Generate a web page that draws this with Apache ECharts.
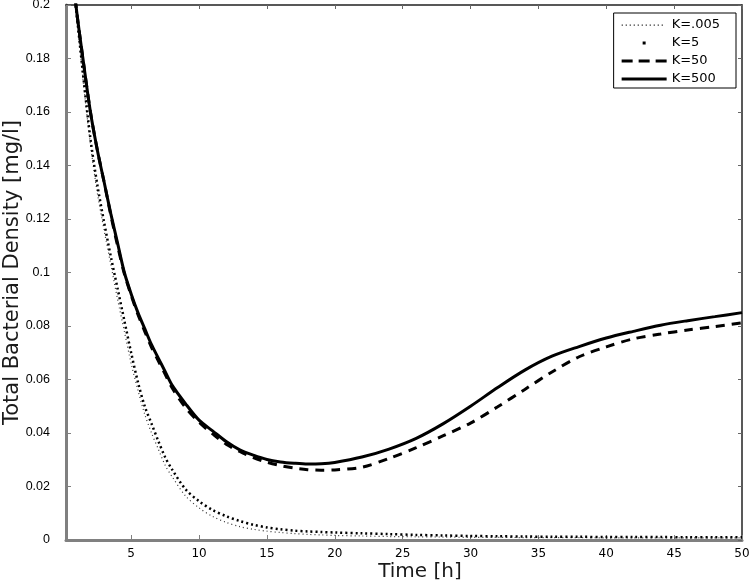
<!DOCTYPE html>
<html>
<head>
<meta charset="utf-8">
<script src="https://cdn.jsdelivr.net/npm/echarts@6/dist/echarts.min.js"></script>
<style>
  html, body { margin: 0; padding: 0; background: #fff; }
  #main { width: 750px; height: 588px; }
</style>
</head>
<body>
<div id="main"></div>
<script>
// time points [h]
const hours = [0.2, 1, 1.5, 2, 2.5, 3, 3.5, 4, 4.5, 5,
  5.5, 6, 6.5, 7, 7.5, 8,
  9, 10, 11, 12, 13, 14, 15, 16, 17, 18, 19, 20,
  22, 24, 26, 28, 30, 32, 34, 36, 38, 40, 42, 44, 46, 48, 50];

// total bacterial density [mg/l] for each K
const k005 = [0.235, 0.195, 0.170, 0.148, 0.130, 0.116, 0.103, 0.090, 0.078, 0.066,
  0.056, 0.047, 0.040, 0.034, 0.028, 0.0238,
  0.0165, 0.0120, 0.0088, 0.0066, 0.0050, 0.0040, 0.0033, 0.0028, 0.0024, 0.0021, 0.0019, 0.0017,
  0.0015, 0.0013, 0.0012, 0.0011, 0.0010, 0.0010, 0.0009, 0.0009, 0.0009, 0.0008, 0.0008, 0.0008, 0.0008, 0.0008, 0.0008];
const k5 = [0.235, 0.196, 0.172, 0.150, 0.133, 0.119, 0.106, 0.094, 0.082, 0.070,
  0.059, 0.050, 0.0435, 0.037, 0.031, 0.0265,
  0.0190, 0.0145, 0.0112, 0.0089, 0.0071, 0.0057, 0.0047, 0.0040, 0.0035, 0.0032, 0.0030, 0.0028,
  0.0025, 0.0022, 0.0019, 0.0017, 0.0015, 0.0014, 0.0013, 0.0012, 0.0012, 0.0011, 0.0011, 0.0011, 0.0010, 0.0010, 0.0010];
const k50 = [0.232, 0.197, 0.178, 0.160, 0.146, 0.134, 0.1215, 0.110, 0.0995, 0.0915,
  0.0843, 0.078, 0.072, 0.067, 0.062, 0.057,
  0.0495, 0.0440, 0.0397, 0.0358, 0.0331, 0.0308, 0.0291, 0.0278, 0.0269, 0.0263, 0.0261, 0.0262,
  0.0272, 0.0305, 0.0345, 0.039, 0.0437, 0.0498, 0.0563, 0.0628, 0.0685, 0.0722, 0.0752, 0.077, 0.0785, 0.0798, 0.0812];
const k500 = [0.232, 0.197, 0.178, 0.160, 0.146, 0.134, 0.122, 0.111, 0.100, 0.092,
  0.085, 0.079, 0.073, 0.068, 0.063, 0.058,
  0.051, 0.0448, 0.0408, 0.0368, 0.0337, 0.0317, 0.0301, 0.0292, 0.0287, 0.0284, 0.0285, 0.029,
  0.031, 0.034, 0.038, 0.0435, 0.050, 0.057, 0.0635, 0.0687, 0.0723, 0.0755, 0.078, 0.0803, 0.082, 0.0835, 0.085];

const xTicks = [5, 10, 15, 20, 25, 30, 35, 40, 45, 50];
const names = ['K=.005', 'K=5', 'K=50', 'K=500'];

function pairs(ys) {
  return hours.map((h, i) => [h, ys[i]]);
}

// legend icons as paths (45 x 14 box), matlab style line samples
const box = 'M0,0M45,14';
let dots = '';
for (let x = 0; x < 44; x += 4) dots += 'M' + x + ',6.4h1.3v1.3h-1.3z';
const icons = [
  'path://' + box + dots,
  'path://' + box + 'M21,5.5h3v3h-3z',
  'path://' + box + 'M0,5.6h11v2.8h-11zM17,5.6h11v2.8h-11zM34,5.6h11v2.8h-11z',
  'path://' + box + 'M0,5.6h45v2.8h-45z'
];

const chart = echarts.init(document.getElementById('main'));

const xBase = {
  type: 'value',
  min: 0.2,
  max: 50,
  splitLine: { show: false }
};
const yBase = {
  type: 'value',
  min: 0,
  max: 0.2,
  interval: 0.02,
  splitLine: { show: false }
};

const option = {
  backgroundColor: '#fff',
  animation: false,
  grid: { left: 66, right: 8, top: 5, bottom: 48, outerBoundsMode: 'none' },
  legend: {
    orient: 'vertical',
    right: 14,
    top: 13,
    padding: [5, 16, 2, 8],
    itemWidth: 45,
    itemHeight: 14,
    itemGap: 4,
    backgroundColor: '#fff',
    borderColor: '#000',
    borderWidth: 1,
    textStyle: { fontFamily: 'DejaVu Sans', fontSize: 13, color: '#000' },
    data: names.map((n, i) => ({ name: n, icon: icons[i] }))
  },
  xAxis: [
    Object.assign({}, xBase, {
      position: 'bottom',
      name: 'Time [h]',
      nameLocation: 'middle',
      nameGap: 22,
      nameMoveOverlap: false,
      nameTextStyle: { fontFamily: 'DejaVu Sans', fontSize: 20, color: '#1a1a1a', padding: [0, 0, 0, 32] },
      axisLine: { lineStyle: { color: '#808080', width: 3 } },
      axisTick: { inside: true, length: 5, customValues: xTicks, lineStyle: { color: '#808080' } },
      axisLabel: { customValues: xTicks, margin: 8, fontFamily: 'DejaVu Sans', fontSize: 12, color: '#000' }
    }),
    Object.assign({}, xBase, {
      position: 'top',
      axisLine: { onZero: false, lineStyle: { color: '#222', width: 1.5 } },
      axisTick: { inside: true, length: 4, customValues: xTicks, lineStyle: { color: '#666' } },
      axisLabel: { show: false }
    })
  ],
  yAxis: [
    Object.assign({}, yBase, {
      position: 'left',
      name: 'Total Bacterial Density [mg/l]',
      nameLocation: 'middle',
      nameGap: 43,
      nameMoveOverlap: false,
      nameTextStyle: { fontFamily: 'DejaVu Sans', fontSize: 21, color: '#1a1a1a' },
      axisLine: { lineStyle: { color: '#808080', width: 3 } },
      axisTick: { inside: true, length: 5, lineStyle: { color: '#808080' } },
      axisLabel: { margin: 16, fontFamily: 'Liberation Sans', fontSize: 12.5, color: '#000' }
    }),
    Object.assign({}, yBase, {
      position: 'right',
      axisLine: { onZero: false, lineStyle: { color: '#222', width: 1.5 } },
      axisTick: { inside: true, length: 4, lineStyle: { color: '#666' } },
      axisLabel: { show: false }
    })
  ],
  series: [
    {
      name: names[0], type: 'line', symbol: 'none', smooth: 0.3, color: '#333',
      data: pairs(k005),
      lineStyle: { color: '#333', width: 1.2, type: [1, 3] }
    },
    {
      name: names[1], type: 'line', symbol: 'none', smooth: 0.3, color: '#000',
      data: pairs(k5),
      lineStyle: { color: '#000', width: 2.5, type: [2, 3] }
    },
    {
      name: names[2], type: 'line', symbol: 'none', smooth: 0.3, color: '#000',
      data: pairs(k50),
      lineStyle: { color: '#000', width: 3, type: [9, 7] }
    },
    {
      name: names[3], type: 'line', symbol: 'none', smooth: 0.3, color: '#000',
      data: pairs(k500),
      lineStyle: { color: '#000', width: 3 }
    }
  ]
};

chart.setOption(option);
</script>
</body>
</html>
